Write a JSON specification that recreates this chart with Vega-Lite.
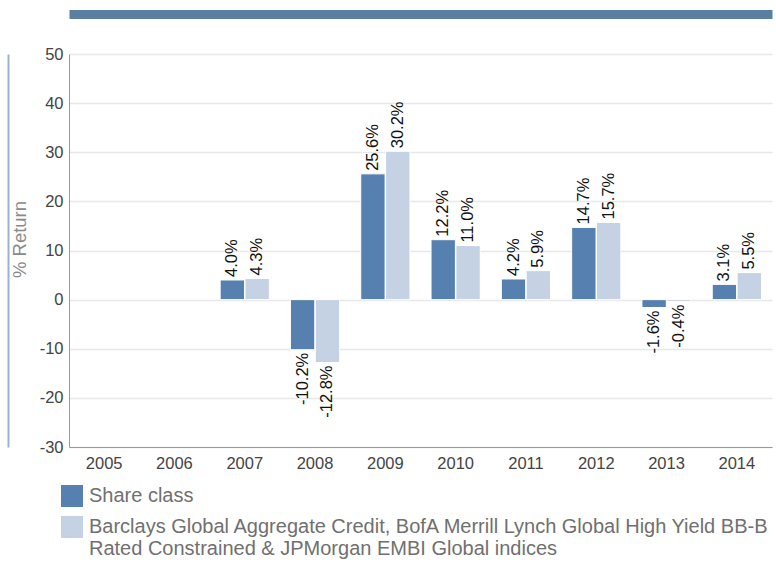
{
  "$schema": "https://vega.github.io/schema/vega-lite/v6.json",
  "width": 703,
  "height": 393,
  "autosize": {"type": "none"},
  "padding": {"left": 69, "top": 54, "right": 4, "bottom": 120},
  "background": "white",
  "config": {
    "view": {"stroke": null},
    "font": "Liberation Sans",
    "axis": {"labelFont": "Liberation Sans", "titleFont": "Liberation Sans"},
    "legend": {"labelFont": "Liberation Sans"}
  },
  "data": {
    "values": [
      {"year": "2007", "series": "Share class", "value": 4.0, "label": "4.0%"},
      {"year": "2007", "series": "Benchmark", "value": 4.3, "label": "4.3%"},
      {"year": "2008", "series": "Share class", "value": -10.2, "label": "-10.2%"},
      {"year": "2008", "series": "Benchmark", "value": -12.8, "label": "-12.8%"},
      {"year": "2009", "series": "Share class", "value": 25.6, "label": "25.6%"},
      {"year": "2009", "series": "Benchmark", "value": 30.2, "label": "30.2%"},
      {"year": "2010", "series": "Share class", "value": 12.2, "label": "12.2%"},
      {"year": "2010", "series": "Benchmark", "value": 11.0, "label": "11.0%"},
      {"year": "2011", "series": "Share class", "value": 4.2, "label": "4.2%"},
      {"year": "2011", "series": "Benchmark", "value": 5.9, "label": "5.9%"},
      {"year": "2012", "series": "Share class", "value": 14.7, "label": "14.7%"},
      {"year": "2012", "series": "Benchmark", "value": 15.7, "label": "15.7%"},
      {"year": "2013", "series": "Share class", "value": -1.6, "label": "-1.6%"},
      {"year": "2013", "series": "Benchmark", "value": -0.4, "label": "-0.4%"},
      {"year": "2014", "series": "Share class", "value": 3.1, "label": "3.1%"},
      {"year": "2014", "series": "Benchmark", "value": 5.5, "label": "5.5%"}
    ]
  },
  "encoding": {
    "x": {
      "field": "year", "type": "nominal",
      "scale": {"domain": ["2005","2006","2007","2008","2009","2010","2011","2012","2013","2014"], "paddingInner": 0.3, "paddingOuter": 0.15}
    },
    "xOffset": {"field": "series", "type": "nominal", "scale": {"domain": ["Share class", "Benchmark"], "paddingInner": 0.02}},
    "y": {"field": "value", "type": "quantitative", "scale": {"domain": [-30, 50], "nice": false, "zero": false}}
  },
  "resolve": {"axis": {"x": "independent", "y": "independent"}},
  "layer": [
    {
      "mark": {"type": "bar", "stroke": "white", "strokeWidth": 1},
      "encoding": {
        "x": {"field": "year", "type": "nominal", "axis": {"orient": "bottom", "title": null, "labelAngle": 0, "labelFontSize": 16.5, "labelColor": "#444444", "labelPadding": 8, "ticks": false, "domainColor": "#999999", "grid": false}},
        "y": {"field": "value", "type": "quantitative", "axis": {"orient": "left", "title": "% Return", "titleFontSize": 18.5, "titleFontWeight": "normal", "titleColor": "#8a8a8a", "titlePadding": 10, "titleY": 185, "values": [-30,-20,-10,0,10,20,30,40,50], "labelExpr": "toString(datum.value)", "labelFontSize": 16.5, "labelColor": "#444444", "labelPadding": 6, "ticks": false, "domainColor": "#999999", "gridColor": "#e8e8e8", "gridWidth": 1.5}},
        "color": {
          "field": "series", "type": "nominal",
          "scale": {"domain": ["Share class", "Benchmark"], "range": ["#5580b0", "#c4d2e4"]},
          "legend": {
            "orient": "none", "legendX": -8, "legendY": 431, "direction": "vertical",
            "title": null, "symbolType": "square", "symbolSize": 484, "symbolStrokeWidth": 0,
            "labelFontSize": 20, "labelColor": "#707070", "labelLimit": 800, "labelOffset": 6, "rowPadding": 9,
            "labelExpr": "datum.label == 'Share class' ? 'Share class' : ['Barclays Global Aggregate Credit, BofA Merrill Lynch Global High Yield BB-B', 'Rated Constrained & JPMorgan EMBI Global indices']"
          }
        }
      }
    },
    {
      "transform": [{"filter": "datum.value >= 0"}],
      "mark": {"type": "text", "angle": 270, "align": "left", "baseline": "middle", "dx": 3, "fontSize": 16.5, "color": "#111111"},
      "encoding": {
        "text": {"field": "label"},
        "x": {"field": "year", "type": "nominal", "axis": {"orient": "top", "offset": 40, "domainWidth": 9, "domainColor": "#5b7fa3", "labels": false, "ticks": false, "grid": false, "title": null}},
        "y": {"field": "value", "type": "quantitative", "axis": {"orient": "left", "offset": 61, "domainWidth": 2, "domainColor": "#9bb3cc", "labels": false, "ticks": false, "grid": false, "title": null}}
      }
    },
    {
      "transform": [{"filter": "datum.value < 0"}],
      "mark": {"type": "text", "angle": 270, "align": "right", "baseline": "middle", "dx": -3, "fontSize": 16.5, "color": "#111111"},
      "encoding": {
        "text": {"field": "label"},
        "x": {"field": "year", "type": "nominal", "axis": null},
        "y": {"field": "value", "type": "quantitative", "axis": null}
      }
    }
  ]
}
